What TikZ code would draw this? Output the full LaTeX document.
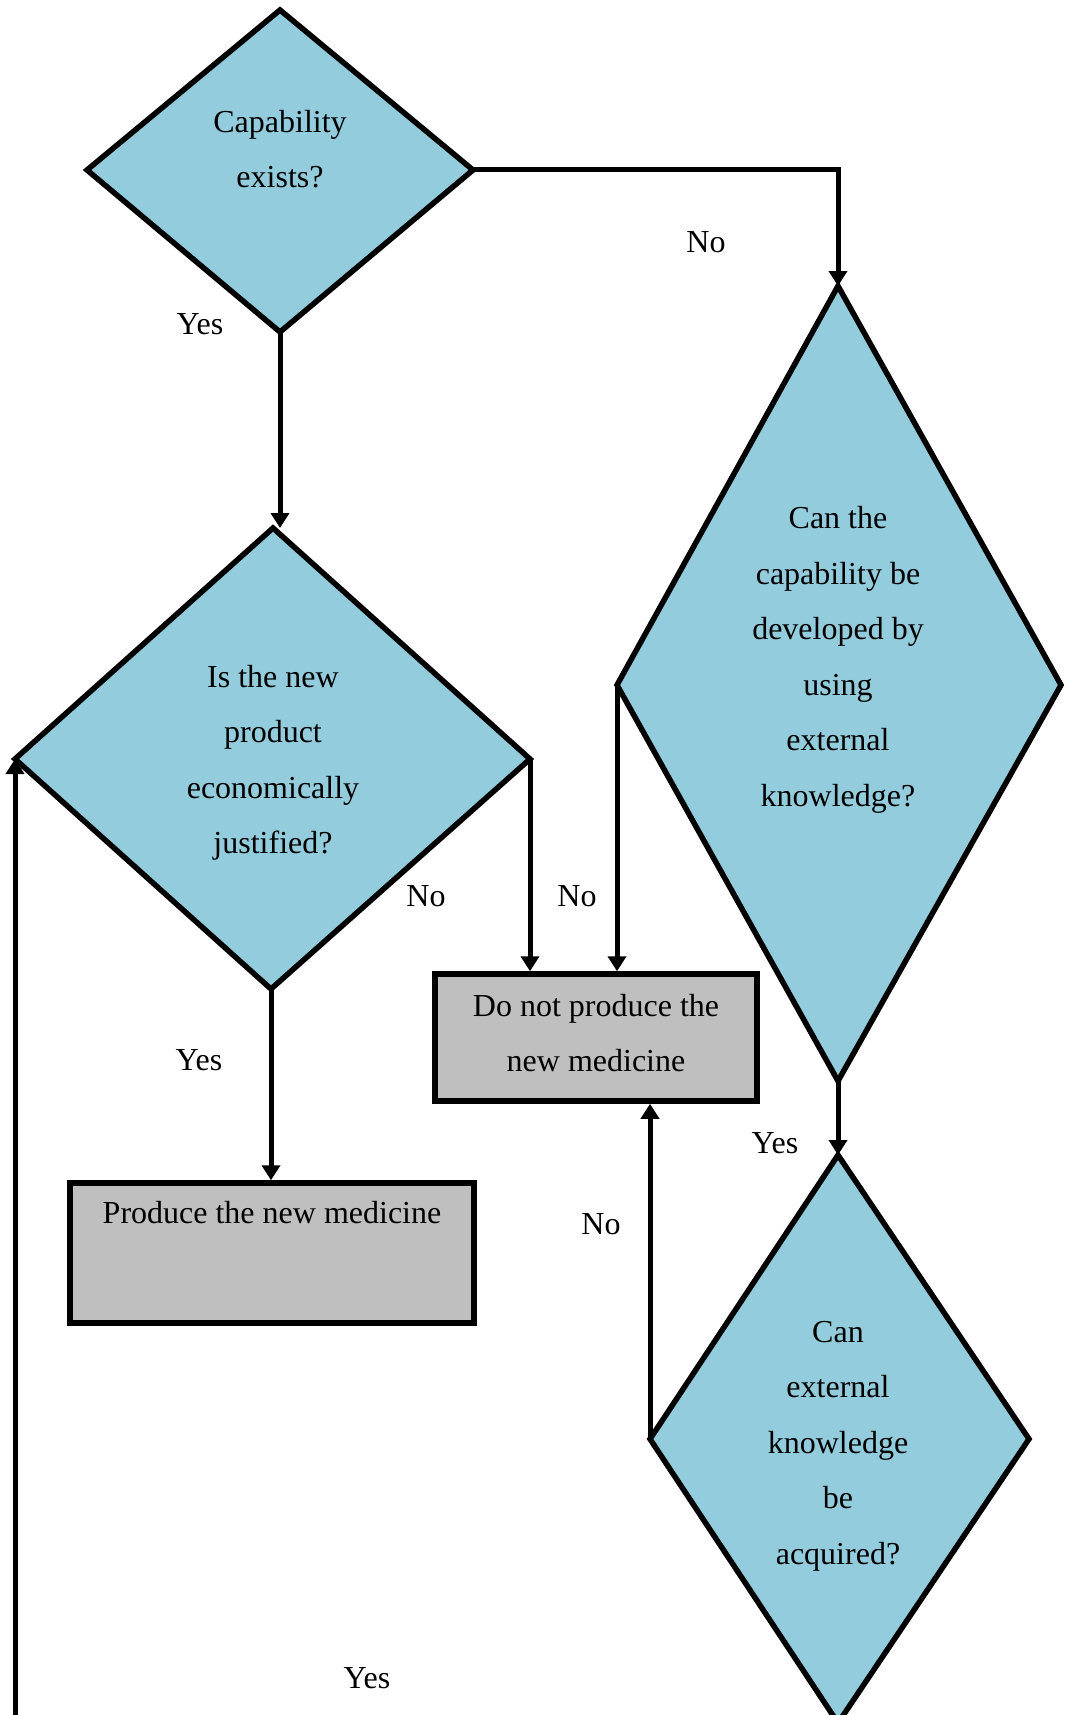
\documentclass[tikz,border=0pt]{standalone}
\usepackage{fontspec}
\setmainfont{Liberation Serif}
\usetikzlibrary{arrows.meta}
\definecolor{qfill}{RGB}{147,205,221}
\definecolor{boxgrey}{RGB}{191,191,191}
\begin{document}
\begin{tikzpicture}[x=1pt,y=-1pt,
  decision/.style={draw=black,fill=qfill,line width=5.5pt,line join=miter},
  outcome/.style={draw=black,fill=boxgrey,line width=5.5pt,inner sep=0pt},
  qtext/.style={align=center,font=\fontsize{32}{55.5}\selectfont,inner sep=0pt},
  lbl/.style={font=\fontsize{32}{38}\selectfont,inner sep=0pt},
  flow/.style={line width=5pt,-{Triangle[length=15pt,width=18pt]}},
]
\useasboundingbox (0,0) rectangle (1067,1715);
\clip (0,0) rectangle (1067,1715);

% decision diamonds: top, right, bottom, left corners
\coordinate (d1t) at (280,10);   \coordinate (d1r) at (473,170);
\coordinate (d1b) at (280,332);  \coordinate (d1l) at (87,170);
\coordinate (d2t) at (838,286);  \coordinate (d2r) at (1061,685);
\coordinate (d2b) at (838,1081); \coordinate (d2l) at (617,685);
\coordinate (d3t) at (273,528);  \coordinate (d3r) at (530,759);
\coordinate (d3b) at (271,989);  \coordinate (d3l) at (15,759);
\coordinate (d4t) at (838,1155); \coordinate (d4r) at (1029,1439);
\coordinate (d4b) at (838,1723); \coordinate (d4l) at (650,1439);

\draw[decision] (d1t) -- (d1r) -- (d1b) -- (d1l) -- cycle;
\draw[decision] (d2t) -- (d2r) -- (d2b) -- (d2l) -- cycle;
\draw[decision] (d3t) -- (d3r) -- (d3b) -- (d3l) -- cycle;
\draw[decision] (d4t) -- (d4r) -- (d4b) -- (d4l) -- cycle;

\node[qtext] (q1) at (280,149) {Capability\\exists?};
\node[qtext] (q2) at (838,660) {Can the\\capability be\\developed by\\using\\external\\knowledge?};
\node[qtext] (q3) at (273,763) {Is the new\\product\\economically\\justified?};
\node[qtext] (q4) at (838,1446) {Can\\external\\knowledge\\be\\acquired?};

% outcome boxes
\node[outcome,minimum width=322pt,minimum height=127pt] (b1) at (596,1037.5) {};
\node[qtext] (b1t) at (596,1033) {Do not produce the\\new medicine};
\node[outcome,minimum width=404pt,minimum height=140pt] (b2) at (272,1253) {};
\node[qtext] (b2t) at (272,1213) {Produce the new medicine};

% connectors
\coordinate (loop) at (15,1725);
\draw[flow] (d1r) -- (d1r -| d2t) -- (d2t);
\draw[flow] (d1b) -- (d1b |- d3t);
\draw[flow] (d3r) -- (d3r |- b1.north);
\draw[flow] (d2l) -- (d2l |- b1.north);
\draw[flow] (d3b) -- (d3b |- b2.north);
\draw[flow] (d2b) -- (d4t);
\draw[flow] (d4l) -- (d4l |- b1.south);
\draw[flow] (loop) -- (d3l);

% branch labels
\node[lbl] (n1) at (706,242) {No};
\node[lbl] (y1) at (200,324) {Yes};
\node[lbl] (n2) at (426,896) {No};
\node[lbl] (n3) at (577,896) {No};
\node[lbl] (y2) at (199,1060) {Yes};
\node[lbl] (y3) at (775,1143) {Yes};
\node[lbl] (n4) at (601,1224) {No};
\node[lbl] (y4) at (367,1678) {Yes};
\end{tikzpicture}
\end{document}
